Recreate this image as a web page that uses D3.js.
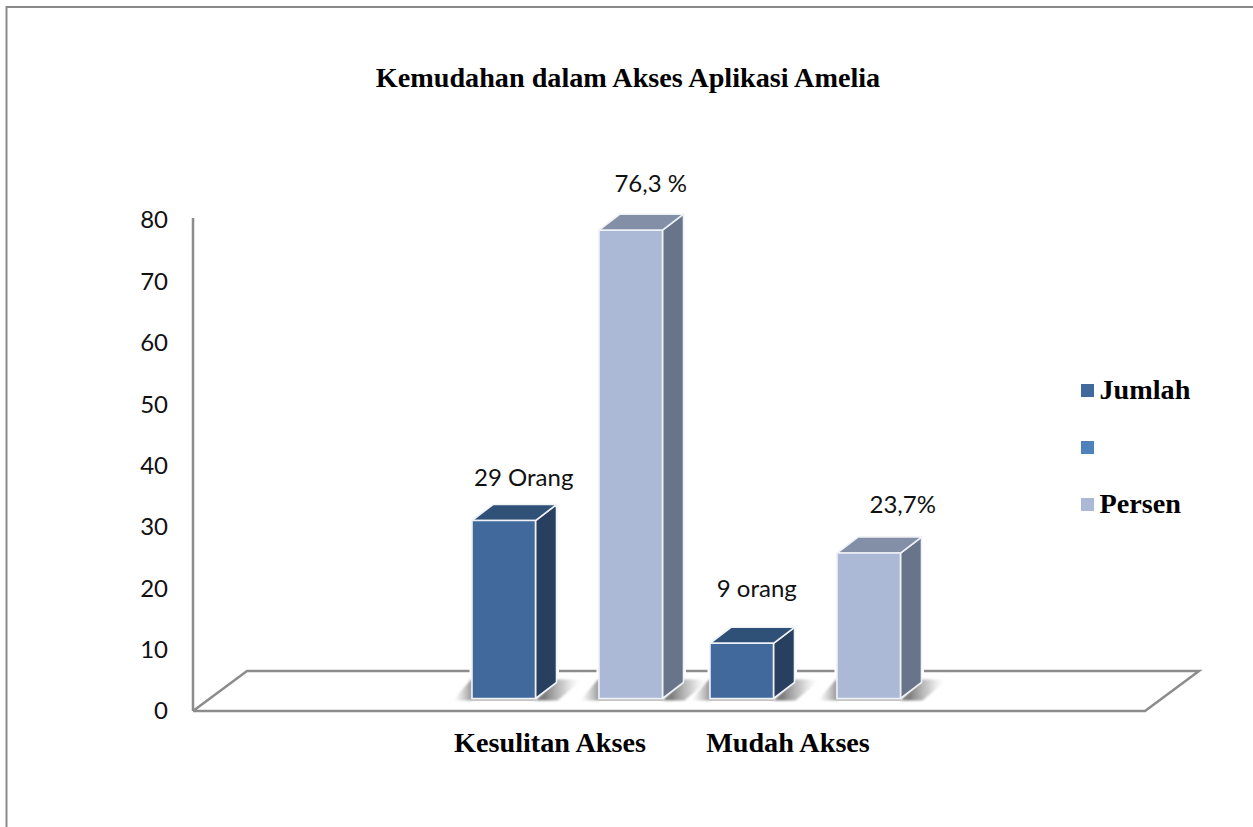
<!DOCTYPE html>
<html><head><meta charset="utf-8">
<script src="https://cdn.jsdelivr.net/npm/d3@7"></script>
<style>html,body{margin:0;padding:0;background:#fff}svg{display:block}</style>
</head><body><div id="c"></div>
<script>
const title = "Kemudahan dalam Akses Aplikasi Amelia";
const categories = ["", "Kesulitan Akses", "Mudah Akses", " "];
const seriesNames = ["Jumlah", "", "Persen"];
const jumlah = [29, 9];
const persen = [76.3, 23.7];
const barCategories = ["Kesulitan Akses", "Mudah Akses"];
const jumlahLabels = ["29 Orang", "9 orang"];
const persenLabels = ["76,3 %", "23,7%"];
const yTicks = [0,10,20,30,40,50,60,70,80];

const W=1253,H=827;
const svg=d3.select("#c").append("svg").attr("width",W).attr("height",H);
const defs=svg.append("defs");
const lg=defs.append("linearGradient").attr("id","sh").attr("x1",0.2).attr("y1",0.4).attr("x2",0.95).attr("y2",0.4);
lg.append("stop").attr("offset",0).attr("stop-color","#707070").attr("stop-opacity",.9);
lg.append("stop").attr("offset",.55).attr("stop-color","#a8a8a8").attr("stop-opacity",.55);
lg.append("stop").attr("offset",1).attr("stop-color","#e0e0e0").attr("stop-opacity",0);
const lg2=defs.append("linearGradient").attr("id","sl").attr("x1",1).attr("y1",0).attr("x2",0).attr("y2",0);
lg2.append("stop").attr("offset",0).attr("stop-color","#808080").attr("stop-opacity",.85);
lg2.append("stop").attr("offset",.6).attr("stop-color","#b8b8b8").attr("stop-opacity",.45);
lg2.append("stop").attr("offset",1).attr("stop-color","#e0e0e0").attr("stop-opacity",0);
defs.append("filter").attr("id","soft").attr("x","-20%").attr("y","-20%").attr("width","140%").attr("height","140%")
 .append("feGaussianBlur").attr("stdDeviation",0.9);

// frame: only the top and left edges are visible in the crop
svg.append("path").attr("fill","none").attr("stroke","#8a8a8a").attr("stroke-width",2)
 .attr("d",d3.line()([[6.5,H],[6.5,7],[W,7]]));

const x=d3.scaleBand().domain(categories).range([193,1145]);
const inner=d3.scaleBand().domain(seriesNames).range([41,231.5]);
const y=d3.scaleLinear().domain([0,80]).range([711,220]);
const depthX=21,depthY=16,floorDrop=12.5;

svg.append("text").attr("x",628).attr("y",87).attr("text-anchor","middle")
 .attr("font-family","'Liberation Serif'").attr("font-weight","bold").attr("font-size",28.2).text(title);

// floor
const fx0=x.range()[0],fx1=x.range()[1];
svg.append("path").attr("fill","none").attr("stroke","#8c8c8c").attr("stroke-width",2.5)
 .attr("d",d3.line()([[fx0,y(0)],[fx1,y(0)],[fx1+54,y(0)-40],[fx0+54,y(0)-40],[fx0,y(0)]]));
// axis
const ax=svg.append("g").attr("transform",`translate(${fx0},0)`).call(d3.axisLeft(y).tickValues(yTicks).tickSize(0).tickPadding(25));
ax.select(".domain").attr("stroke","#8c8c8c").attr("stroke-width",2.5).attr("d",`M0,${y(0)}V${y(80)-2}`);
ax.selectAll("text").attr("font-family","Lato").attr("font-size",24).attr("fill","#111").attr("dy","0.33em");

const palette={Jumlah:{f:"#41699b",s:"#283f60",t:"#2f5177"},Persen:{f:"#abb9d6",s:"#68748a",t:"#828fa7"}};
function bar(name,cat,val,label,lx,ly){
  const p=palette[name];
  const x0=x(cat)+inner(name),w=inner.bandwidth(),x1=x0+w;
  const yb=y(0)-floorDrop,yt=y(val)-floorDrop;
  const g=svg.append("g");
  g.append("path").attr("fill","#fff").attr("stroke","#fff").attr("stroke-width",5)
   .attr("d",d3.line()([[x0,yb],[x0,yt],[x0+depthX,yt-depthY],[x1+depthX,yt-depthY],[x1+depthX,yb-depthY],[x1,yb]])+"Z");
  const sh=g.append("g").attr("filter","url(#soft)");
  sh.append("path").attr("fill","url(#sh)").attr("d",d3.line()([[x1,yb+2],[x1+depthX,yb-depthY-3],[x1+47,yb-depthY-3],[x1+22,yb+2]])+"Z");
  sh.append("path").attr("fill","url(#sl)").attr("d",d3.line()([[x0,yb+2],[x0,yb-depthY-3],[x0-1,yb-depthY-3],[x0-19,yb+2]])+"Z");
  g.append("rect").attr("x",x0-1).attr("y",yb).attr("width",w+2).attr("height",2.5).attr("fill","#c4c4c4");
  const st=g.append("g").attr("stroke","#eef1f6").attr("stroke-width",1.6).attr("stroke-linejoin","round");
  st.append("path").attr("fill",p.s).attr("d",d3.line()([[x1,yt],[x1+depthX,yt-depthY],[x1+depthX,yb-depthY],[x1,yb]])+"Z");
  st.append("path").attr("fill",p.t).attr("d",d3.line()([[x0,yt],[x0+depthX,yt-depthY],[x1+depthX,yt-depthY],[x1,yt]])+"Z");
  st.append("rect").attr("x",x0).attr("y",yt).attr("width",w).attr("height",yb-yt).attr("fill",p.f);
  svg.append("text").attr("x",x0+w/2+lx).attr("y",yt+ly).attr("text-anchor","middle").attr("font-family","Lato").attr("font-size",24).attr("fill","#111").text(label);
}
barCategories.forEach((c,i)=>{
  bar("Jumlah",c,jumlah[i],jumlahLabels[i],[20,15][i],[-35,-46][i]);
  bar("Persen",c,persen[i],persenLabels[i],[20,34][i],[-38,-40][i]);
});
// cat labels
barCategories.forEach(c=>{
  svg.append("text").attr("x",x(c)+x.bandwidth()/2).attr("y",752).attr("text-anchor","middle")
   .attr("font-family","'Liberation Serif'").attr("font-weight","bold").attr("font-size",28.2).text(c);
});
// legend
const legendColors=["#41699b","#4f81bd","#abb9d6"];
const ly=d3.scalePoint().domain(seriesNames).range([390,504]);
seriesNames.forEach((n,i)=>{
  svg.append("rect").attr("x",1081).attr("y",ly(n)-6).attr("width",13).attr("height",13).attr("fill",legendColors[i]);
  svg.append("text").attr("x",1099.5).attr("y",ly(n)+9).attr("font-family","'Liberation Serif'").attr("font-weight","bold").attr("font-size",28.2).text(n);
});
</script></body></html>
